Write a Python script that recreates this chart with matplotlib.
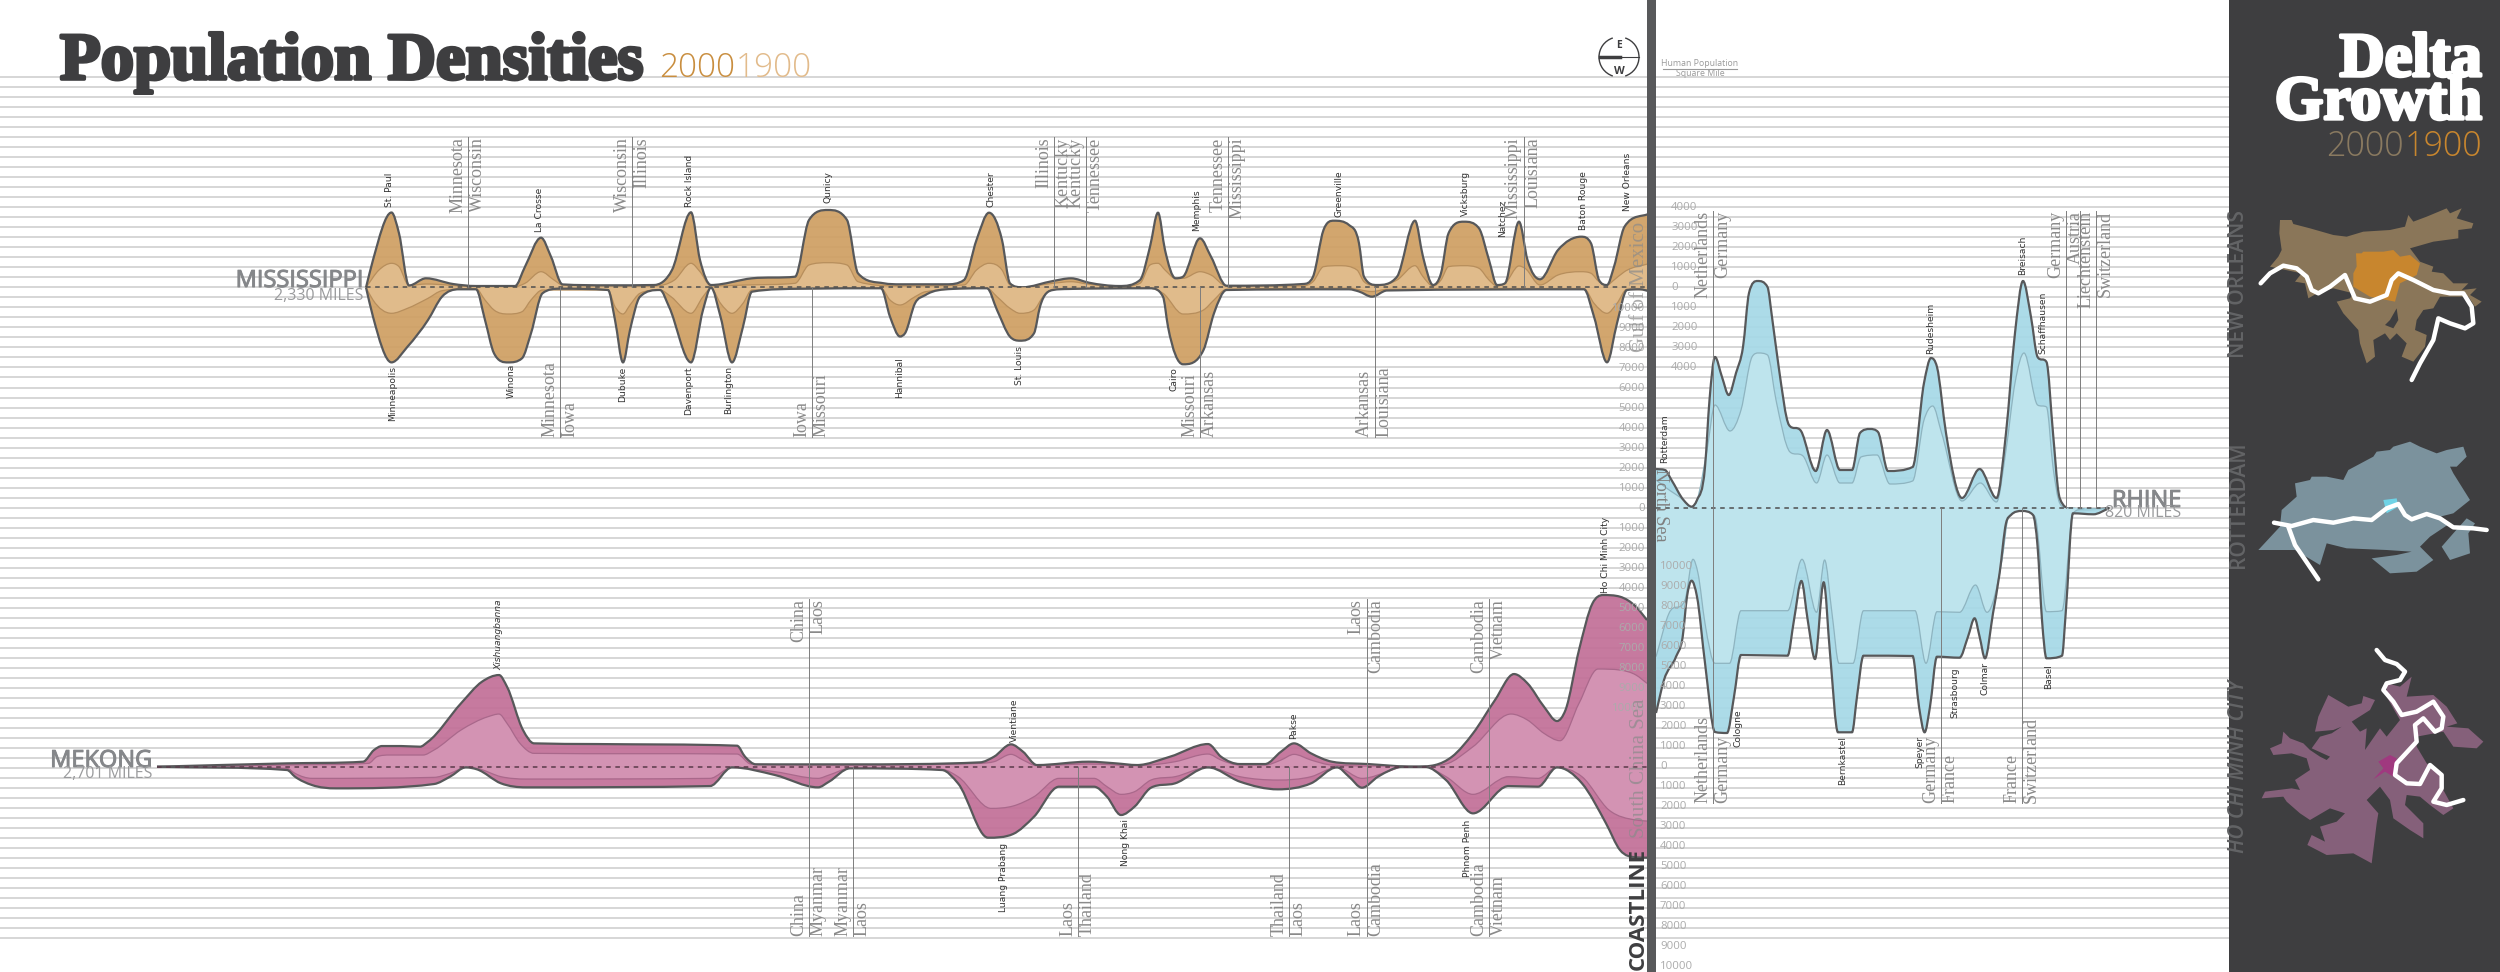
import numpy as np
import matplotlib
matplotlib.use("Agg")
import matplotlib.pyplot as plt
import matplotlib.patheffects as pe
from matplotlib.path import Path
from matplotlib.patches import PathPatch, Polygon, Rectangle, Arc

# densities are people per square mile, x is the station along the sheet
miss_up_2000_x = [366,373,391.5,399,409,426,453,476,515,525,541,551,562.5,608,654,672,691,700,711,752,795,809,828,847,858,884,900,946,964,976.5,989,1002,1010,1022,1053,1071,1089,1119,1140,1150,1158,1165,1175.5,1183,1200,1211,1226.5,1303,1313,1323.5,1334,1349,1359,1364,1377,1397,1415,1423,1433,1441,1448.5,1464,1479,1489,1497,1505,1519,1527.5,1540,1558,1581,1591,1599,1607,1614,1624.5,1650]
miss_up_2000 = [0,1375,3750,2710,100,460,175,75,75,1040,2490,1540,155,110,125,875,3760,1375,125,460,540,3375,3875,3375,710,210,160,160,375,2375,3740,2375,210,10,325,460,240,75,375,2040,3740,1875,460,540,2460,1540,90,175,540,2875,3340,3125,2210,540,125,540,3340,1540,125,710,2710,3290,2960,1375,125,210,3290,1375,410,1875,2540,2210,375,125,1040,3040,3710]
miss_up_1900_x = [366,379,391.5,399,409,426,476,515,525,541,554,562.5,654,674.5,691,700,711,746,795,809,828,847,858,900,964,976.5,989,1002,1010,1022,1053,1071,1089,1119,1140,1150,1158,1165,1175.5,1183,1200,1211,1226.5,1303,1313,1323.5,1339,1357,1364,1377,1397,1415,1423,1433,1441,1448.5,1464,1479,1489,1497,1505,1519,1525,1540,1558,1581,1591,1599,1607,1614,1624.5,1650]
miss_up_1900 = [0,875,1210,1040,100,175,40,40,210,790,375,125,75,375,1210,790,75,125,210,1125,1240,1125,290,75,125,875,1210,875,125,10,210,290,160,40,210,1125,1210,875,460,460,790,625,75,75,290,1040,1090,875,290,90,375,1090,540,75,375,1040,1090,960,375,75,210,1075,960,125,625,790,710,290,125,375,790,1210]
miss_dn_2000_x = [366,373,391.5,407.5,428,442,459,476,485,494,508,522,531,542.5,560,608,615,623,630,640,660,669,691,703,711,720.5,732,743,752,804,881,890,900,905,915,925.5,951,987,997,1010,1020,1034,1040,1053,1068,1150,1163,1168,1183,1203.5,1214,1226.5,1349,1359,1372,1387,1584,1594,1607,1617,1627,1640,1650]
miss_dn_2000 = [0,1460,3745,2960,1625,460,90,90,1625,3290,3745,3540,2290,290,60,125,1625,3745,2125,460,125,960,3745,1125,0,1460,3745,1960,210,60,40,1460,2450,2290,790,375,75,40,1125,2460,2660,2290,960,125,75,40,460,1960,3840,3125,1290,125,90,200,460,150,90,1460,3740,1790,125,90,200]
miss_dn_1900_x = [366,373,391.5,407.5,428,442,476,485,494,508,522,531,542.5,608,615,623,630,640,660,671,691,703,711,720.5,732,743,752,881,890,900,915,925.5,987,997,1010,1020,1034,1043,1053,1150,1163,1183,1203.5,1214,1226.5,1349,1372,1387,1584,1594,1607,1617,1627,1650]
miss_dn_1900 = [0,625,1290,1040,540,160,60,625,1125,1325,1210,625,125,125,960,1325,875,290,125,460,1290,460,40,790,1290,790,125,40,625,875,460,210,40,460,1040,1290,1125,460,90,40,290,1325,1125,625,90,40,200,90,60,790,1290,790,90,125]

rhine_up_2000_x = [1656,1665,1671.5,1683.5,1691.6,1697,1705,1709.5,1715,1722,1728.7,1736,1743,1749,1757.7,1767.5,1772,1778.7,1789,1801,1815.7,1827,1840,1852,1860,1870,1878,1888,1912.6,1924,1931,1937,1946,1962,1979.6,1996.5,2006,2015,2023,2031,2037.6,2046.5,2053,2058.6,2062,2075.5,2109]
rhine_up_2000 = [1965,1915,1415,415,80,415,2065,5415,7565,6565,5665,6765,8065,10765,11365,11065,9565,7065,4165,3865,1865,3915,1915,1915,3765,3965,3815,1865,2065,6265,7515,7065,3765,515,1965,515,3765,8765,11365,9565,7565,7315,3765,765,265,-100,0]
rhine_up_1900_x = [1656,1665,1683.5,1691.6,1697,1707,1715,1730,1741,1752,1758.6,1767.5,1776,1790,1803,1816.6,1827,1840,1852,1861,1877,1890,1912.6,1924,1932.7,1941.6,1962,1980.4,1996.5,2006,2015,2024,2037.6,2046.5,2053,2058.6,2064,2075.5]
rhine_up_1900 = [1415,1065,415,65,415,2915,5165,3865,4915,7565,7765,7665,5415,2815,2615,1265,2665,1265,1265,2565,2665,1215,1365,4415,5115,3765,365,1265,315,2915,6265,7765,5165,5065,2065,415,65,0]
rhine_dn_2000_x = [1656,1664,1676,1682.7,1687,1691.6,1697,1705,1715,1727,1734,1741,1787.6,1794,1801.4,1807.7,1815,1823.7,1830,1838,1852,1857,1863.5,1912.6,1919,1924.6,1930,1937,1959.5,1968,1974.6,1979.6,1985,1993,1999.6,2006,2011,2022,2033,2037.6,2042,2046.5,2062,2065.7,2073,2093.4,2109]
rhine_dn_2000 = [10235,8585,7420,6420,4420,3620,4420,7735,11185,11235,9420,7335,7370,5585,3635,5585,7535,3700,7250,11200,11200,9420,7370,7385,9920,11200,9920,7420,7470,6420,5500,6420,7500,5250,3250,750,335,135,335,1920,5585,7500,7370,5250,250,300,0]
rhine_dn_1900_x = [1656,1669,1685,1693,1698,1705,1715,1729.5,1741,1787.6,1802,1816.6,1824.6,1832,1839,1853,1863.5,1915,1926,1937,1959.5,1975.5,1987,2002,2008.6,2022,2035,2046.5,2062,2073,2084.5]
rhine_dn_1900 = [7420,5250,4585,2550,3250,5750,7750,7750,5120,5120,2550,5200,2585,5250,7750,7750,5120,5120,7750,5170,5200,3835,5200,2585,420,135,420,5170,5120,250,0]

mekong_up_2000_x = [157,287,363,374,382,401,420,428,461,482,499,507,523,534,596,737,745,756,850,980,994,1011,1023,1037,1088.5,1116,1137,1170,1208,1221,1240,1265,1281,1294,1311,1332,1368,1414,1435,1452,1473,1495,1514,1527.5,1544,1557,1565.5,1579,1592.5,1603,1620,1636,1647]
mekong_up_2000 = [0,167,250,833,1033,1033,1000,1250,3167,4250,4583,4000,1833,1167,1133,1050,500,117,117,217,500,1117,750,83,250,167,83,500,1133,500,133,133,750,1167,667,250,133,0,83,500,1667,3333,4633,4167,3000,2283,2833,5833,8167,8583,8500,8000,7333]
mekong_up_1900_x = [157,287,368.5,377,390,423,434,461,488,499,507,520,534,737,751,850,980,994,1011,1023,1037,1088.5,1137,1175,1208,1221,1240,1265,1281,1294,1311,1332,1414,1446,1473,1511,1527.5,1544,1560,1579,1598,1620,1636,1647]
mekong_up_1900 = [0,83,167,500,583,583,833,1833,2500,2633,2167,1167,667,633,133,83,167,250,617,333,50,133,50,250,633,333,83,83,333,617,333,83,0,133,1000,2633,2333,1667,1300,3167,4883,4833,4583,4167]
mekong_dn_2000_x = [157,287,295,312,336,434,450,466,477,501,526,710,732,775,818,829,850,942,958,988,1013,1034,1059,1094,1107,1121,1134.5,1151,1175,1208,1240,1278,1311,1337,1349,1362,1378,1403,1424.5,1446,1473,1508.5,1538,1557,1582,1606,1620,1636,1647]
mekong_dn_2000 = [0,167,500,917,1083,867,500,33,133,833,1033,967,33,417,1033,750,83,167,833,3550,3367,2500,1000,1000,1500,2417,2000,1050,833,33,750,1133,833,33,500,1050,500,0,0,667,2333,967,1000,33,833,2833,4167,4533,4550]
mekong_dn_1900_x = [157,287,295,312,434,450,466,477,501,526,710,732,775,818,829,850,942,958,991,1013,1034,1059,1094,1107,1121,1134.5,1151,1175,1208,1240,1278,1311,1337,1362,1392,1403,1424.5,1446,1473,1508.5,1538,1557,1582,1609,1636,1647]
mekong_dn_1900 = [0,83,333,583,533,333,33,83,500,617,583,33,250,583,417,83,133,500,2083,1967,1500,583,583,1000,1383,1250,667,500,33,500,667,500,33,583,167,0,0,500,1383,500,583,33,500,2167,2667,2717]

tick_hi = [4000,3000,2000,1000,0,-1000,-2000,-3000,-4000]
tick_wide = [10000,9000,8000,7000,6000,5000,4000,3000,2000,1000,0,-1000,-2000,-3000,-4000,-5000,-6000,-7000,-8000,-9000,-10000]

# state/country dividers (station, left name, right name)
miss_top_borders = [(468,"Minnesota","Wisconsin"),(632,"Wisconsin","Illinois"),(1054,"Illinois","Kentucky"),(1086,"Kentucky","Tennessee"),(1228,"Tennessee","Mississippi"),(1523.5,"Mississippi","Louisiana")]
miss_low_borders = [(560,"Minnesota","Iowa"),(812,"Iowa","Missouri"),(1200,"Missouri","Arkansas"),(1374.5,"Arkansas","Louisiana")]
rhine_top_borders = [(1713,"Netherlands","Germany"),(2066,"Germany","Austria"),(2095.6,"Liechtenstein","Switzerland")]
rhine_low_borders = [(1713,"Netherlands","Germany"),(1941,"Germany","France"),(2022,"France","Switzerland")]
mekong_top_borders = [(809,"China","Laos"),(1366.5,"Laos","Cambodia"),(1488.5,"Cambodia","Vietnam")]
mekong_low_borders = [(809,"China","Myanmar"),(853,"Myanmar","Laos"),(1077.6,"Laos","Thailand"),(1289,"Thailand","Laos"),(1366.5,"Laos","Cambodia"),(1488.5,"Cambodia","Vietnam")]

# city name, station, end of label nearest the river
cities_above = [("St. Paul",390,207),("La Crosse",540,232),("Rock Island",689,207),("Qunicy",828,203),("Chester",991,207),("Memphis",1197,231),("Greenville",1339,217),("Vicksburg",1465,216),("Natchez",1503,237),("Baton Rouge",1583,230),("New Orleans",1627,211),
                ("Rotterdam",1665,463),("Rudesheim",1930.5,354),("Breisach",2023,275),("Schaffhausen",2042.5,354),
                ("Vientiane",1014,742),("Pakse",1294,739),("Ho Chi Minh City",1606,593)]
cities_below = [("Minneapolis",392.6,366),("Winona",511,364),("Dubuke",623,367),("Davenport",689,366),("Burlington",729,366),("Hannibal",900,357),("St. Louis",1020,346),("Cairo",1174,367),
                ("Cologne",1738,709),("Bernkastel",1843,736),("Speyer",1920,736),("Strasbourg",1955,667),("Colmar",1985,662),("Basel",2049,664),
                ("Luang Prabang",1003,843),("Nong Khai",1125,819),("Phnom Penh",1467,820)]

# sidebar maps traced from the sheet, in crop units
nola_2000 = [(180,660),(215,660),(220,672),(270,685),(340,705),(380,710),(430,695),(510,690),(555,680),(565,645),(580,665),(620,650),(680,625),(690,640),(725,625),(710,655),(760,670),(755,685),(715,690),(715,715),(640,725),(570,745),(600,785),(640,800),(635,815),(670,820),(700,850),(745,850),(725,870),(770,865),(750,885),(785,905),(765,920),(745,890),(660,890),(640,925),(610,930),(590,960),(585,990),(620,1005),(615,1040),(580,1085),(545,1070),(560,1030),(530,1000),(510,1020),(495,1000),(460,1020),(465,1070),(440,1090),(420,1030),(415,990),(370,940),(350,905),(390,895),(400,880),(340,865),(300,875),(265,895),(255,850),(225,845),(245,820),(150,800),(175,770),(185,750),(178,700)]
nola_1900 = [(408,760),(425,760),(430,755),(490,755),(520,750),(540,770),(570,765),(600,790),(590,825),(540,850),(525,905),(450,890),(400,860),(400,820),(410,800)]
nola_lake = [(510,960),(530,925),(535,960),(520,985),(495,975)]
nola_river = [(122,850),(150,820),(190,797),(230,805),(260,830),(275,870),(295,880),(330,860),(375,825),(390,860),(405,895),(450,905),(500,885),(515,840),(535,820),(580,840),(640,870),(690,880),(730,880),(755,920),(760,970),(735,985),(690,970),(655,955),(640,1020),(600,1090),(575,1140)]
rott_2000 = [(225,1450),(270,1440),(275,1430),(320,1430),(370,1440),(385,1410),(460,1370),(470,1355),(510,1350),(520,1340),(570,1325),(600,1340),(650,1360),(680,1350),(730,1340),(740,1370),(710,1400),(690,1400),(700,1420),(750,1500),(700,1540),(660,1550),(690,1570),(630,1610),(600,1640),(640,1680),(590,1715),(510,1720),(455,1675),(530,1665),(575,1655),(500,1650),(380,1645),(320,1630),(300,1695),(225,1650),(115,1650),(180,1580),(185,1530),(230,1490)]
rott_east = [(740,1555),(765,1570),(745,1600),(750,1660),(690,1680),(665,1640),(700,1600)]
rott_1900 = [(490,1500),(530,1495),(535,1520),(500,1540)]
rott_river = [(162,1568),(215,1578),(280,1560),(340,1568),(400,1555),(455,1560),(500,1525),(535,1512),(555,1545),(575,1558),(620,1542),(660,1555),(700,1582),(760,1585),(800,1590)]
rott_branch = [(205,1580),(225,1635),(295,1738)]
hcmc_2000 = [(325,2085),(385,2120),(425,2110),(430,2088),(465,2100),(450,2130),(395,2165),(420,2195),(440,2185),(435,2250),(480,2185),(500,2210),(540,2160),(500,2090),(500,2050),(540,2060),(575,2030),(560,2090),(640,2085),(680,2120),(712,2170),(680,2180),(745,2185),(790,2225),(770,2245),(700,2240),(670,2195),(590,2210),(590,2240),(620,2290),(670,2330),(670,2370),(700,2425),(670,2445),(630,2415),(600,2390),(560,2385),(555,2415),(590,2450),(610,2470),(610,2515),(570,2490),(520,2455),(510,2400),(480,2360),(440,2400),(475,2440),(470,2470),(455,2590),(400,2560),(320,2565),(262,2535),(275,2505),(315,2525),(300,2480),(350,2465),(375,2440),(330,2425),(270,2460),(240,2440),(200,2405),(190,2390),(125,2395),(135,2375),(215,2365),(240,2370),(225,2340),(270,2310),(260,2275),(215,2260),(160,2265),(150,2245),(185,2230),(190,2195),(210,2215),(250,2230),(270,2250),(300,2270),(320,2280),(330,2270),(275,2245),(300,2210),(335,2200),(365,2180),(340,2190),(285,2195),(295,2150)]
hcmc_1900 = [(475,2285),(510,2265),(530,2275),(520,2330),(495,2315),(460,2338),(490,2305)]
hcmc_river = [(470,1950),(495,1980),(530,1992),(555,2015),(540,2040),(500,2050),(490,2070),(520,2105),(545,2145),(590,2135),(640,2105),(670,2150),(665,2185),(645,2195),(610,2155),(585,2175),(590,2225),(530,2290),(525,2325),(560,2350),(600,2352),(630,2295),(665,2325),(665,2365),(640,2405),(680,2415),(730,2400)]

DARK = "#3e3e40"
BAR = "#58595b"
OUTLINE = "#57585a"
SANS = "Open Sans"
SERIF = "Liberation Serif"
NARROW = ["Liberation Sans Narrow", "Open Sans"]


def monotone_path(xs, ys, closed_to_zero=False):
    xs = np.asarray(xs, float)
    ys = np.asarray(ys, float)
    dx = np.diff(xs)
    sl = np.diff(ys) / dx
    m = np.zeros(len(xs))
    for i in range(1, len(xs) - 1):
        if sl[i - 1] * sl[i] > 0:
            avg = (sl[i - 1] * dx[i] + sl[i] * dx[i - 1]) / (dx[i - 1] + dx[i])
            lim = 3 * min(abs(sl[i - 1]), abs(sl[i]))
            m[i] = np.sign(avg) * min(abs(avg), lim)
    m[0] = sl[0]
    m[-1] = sl[-1]
    verts = [(xs[0], ys[0])]
    codes = [Path.MOVETO]
    for i in range(len(dx)):
        verts += [(xs[i] + dx[i] / 3, ys[i] + m[i] * dx[i] / 3),
                  (xs[i + 1] - dx[i] / 3, ys[i + 1] - m[i + 1] * dx[i] / 3),
                  (xs[i + 1], ys[i + 1])]
        codes += [Path.CURVE4] * 3
    if closed_to_zero:
        verts += [(xs[-1], 0), (xs[0], 0), (xs[0], 0)]
        codes += [Path.LINETO, Path.LINETO, Path.CLOSEPOLY]
    return Path(verts, codes)


def draw_side(ax, x2000, v2000, x1900, v1900, sign, dark, light, mid):
    v2000 = sign * np.asarray(v2000, float)
    v1900 = sign * np.asarray(v1900, float)
    ax.add_patch(PathPatch(monotone_path(x2000, v2000, True), fc=dark, ec="none", alpha=0.93))
    ax.add_patch(PathPatch(monotone_path(x1900, v1900, True), fc=light, ec="none", alpha=0.93))
    ax.add_patch(PathPatch(monotone_path(x1900, v1900), fc="none", ec=mid, lw=0.9))
    ax.add_patch(PathPatch(monotone_path(x2000, v2000), fc="none", ec=OUTLINE, lw=1.6))


def river_axes(zero_y, z):
    a = fig.add_axes([0, 0, 1, 1], zorder=z)
    a.set_xlim(0, 2500)
    a.set_ylim((zero_y - 972) * 50, zero_y * 50)  # 1000 per sq mile = 20 px
    a.axis("off")
    a.patch.set_alpha(0)
    return a


def border_labels(ax, items, y, top, y_zero):
    for x, left, right in items:
        ax.plot([x, x], [y, y_zero], color="#7d7d7d", lw=0.7, zorder=6)
        va = "top" if top else "bottom"
        ax.text(x - 1.5, y, left, rotation=90, ha="right", va=va, family=SERIF, fontsize=13, color="#8a8a8a", zorder=7)
        ax.text(x + 1, y, right, rotation=90, ha="left", va=va, family=SERIF, fontsize=13, color="#8a8a8a", zorder=7)


fig = plt.figure(figsize=(25, 9.72), dpi=100, facecolor="white")

ax_bg = fig.add_axes([0, 0, 1, 1], zorder=0)
ax_bg.set_xlim(0, 2500)
ax_bg.set_ylim(972, 0)
ax_bg.axis("off")
ax_bg.hlines(np.arange(77.5, 938, 10), 0, 2229, color="#cdcdcd", lw=1.15)

ax_miss = river_axes(287.5, 1)
ax_rhine = river_axes(508.3, 2)
ax_mek = river_axes(766.7, 3)

draw_side(ax_miss, miss_up_2000_x, miss_up_2000, miss_up_1900_x, miss_up_1900, 1, "#cf9f63", "#e2bd8e", "#b78e5c")
draw_side(ax_miss, miss_dn_2000_x, miss_dn_2000, miss_dn_1900_x, miss_dn_1900, -1, "#cf9f63", "#e2bd8e", "#b78e5c")
ax_miss.plot([366, 1647], [0, 0], color="#4f4f4f", lw=1.1, dashes=(3, 3))

draw_side(ax_rhine, rhine_up_2000_x, rhine_up_2000, rhine_up_1900_x, rhine_up_1900, 1, "#a6d9e7", "#c0e5ee", "#8eb4c0")
draw_side(ax_rhine, rhine_dn_2000_x, rhine_dn_2000, rhine_dn_1900_x, rhine_dn_1900, -1, "#a6d9e7", "#c0e5ee", "#8eb4c0")
ax_rhine.plot([1656, 2110], [0, 0], color="#4f4f4f", lw=1.1, dashes=(3, 3))

draw_side(ax_mek, mekong_up_2000_x, mekong_up_2000, mekong_up_1900_x, mekong_up_1900, 1, "#c27098", "#d596b5", "#a9688b")
draw_side(ax_mek, mekong_dn_2000_x, mekong_dn_2000, mekong_dn_1900_x, mekong_dn_1900, -1, "#c27098", "#d596b5", "#a9688b")
ax_mek.plot([157, 1647], [0, 0], color="#5a3a4a", lw=1.1, dashes=(3, 3))

ax = fig.add_axes([0, 0, 1, 1], zorder=5)
ax.set_xlim(0, 2500)
ax.set_ylim(972, 0)
ax.axis("off")
ax.patch.set_alpha(0)

border_labels(ax, miss_top_borders, 137.5, True, 287.5)
border_labels(ax, miss_low_borders, 436.5, False, 287.5)
border_labels(ax, rhine_top_borders, 211, True, 508.3)
ax.plot([2080, 2080], [211, 508.3], color="#7d7d7d", lw=0.7)
border_labels(ax, rhine_low_borders, 803, False, 508.3)
border_labels(ax, mekong_top_borders, 599, True, 766.7)
border_labels(ax, mekong_low_borders, 936, False, 766.7)

for name, x, y in cities_above:
    ax.text(x, y, name, rotation=90, ha="center", va="bottom", fontsize=6.6, color="#333333", family="DejaVu Sans")
for name, x, y in cities_below:
    ax.text(x, y, name, rotation=90, ha="center", va="top", fontsize=6.6, color="#333333", family="DejaVu Sans")
ax.text(499, 670, "Xishuangbanna", rotation=90, ha="center", va="bottom", fontsize=6.6, color="#333333", style="italic", family="DejaVu Sans")

# density scales either side of the coastline
for v in tick_hi:
    ax.text(1671, v, f"{abs(v)}", transform=ax_miss.transData, fontsize=8.2, color="#ababab", family=SANS, va="center", ha="left")
for v in tick_wide:
    ax.text(1645, v, f"{abs(v)}", transform=ax_rhine.transData, fontsize=8.2, color="#ababab", family=SANS, va="center", ha="right")
    ax.text(1660, v, f"{abs(v)}", transform=ax_mek.transData, fontsize=8.2, color="#ababab", family=SANS, va="center", ha="left")

ax.text(1640, 287, "Gulf of Mexico", rotation=90, ha="center", va="center", family=SERIF, fontsize=15, color="#8a8a8a", alpha=0.7)
ax.text(1640, 768, "South China Sea", rotation=90, ha="center", va="center", family=SERIF, fontsize=15, color="#8a8a8a", alpha=0.7)
ax.text(1660, 505, "North Sea", rotation=270, ha="center", va="center", family=SERIF, fontsize=13, color="#7f7f7f")
ax.text(1638, 970, "COASTLINE", rotation=90, ha="center", va="bottom", family=SANS, fontsize=16, weight="bold", color=DARK)

# coast bar and sidebar
ax.add_patch(Rectangle((1647, 0), 9, 972, fc=BAR, ec="none", zorder=8))
ax.add_patch(Rectangle((2229, 0), 271, 972, fc=DARK, ec="none", zorder=8))

# heading
heavy = [pe.withStroke(linewidth=2.6, foreground=DARK)]
ax.text(60, 79, "Population Densities", family=SERIF, weight="bold", fontsize=48, color=DARK, va="baseline", path_effects=heavy)
ax.text(659, 77, "2000", family=SANS, fontsize=24, color="#c98e3f", va="baseline", weight="light")
ax.text(736, 77, "1900", family=SANS, fontsize=24, color="#e2bb8b", va="baseline", weight="light")

# compass and unit note
ax.add_patch(Arc((1619, 57), 40, 40, theta1=-72, theta2=72, ec=DARK, lw=1))
ax.add_patch(Arc((1619, 57), 40, 40, theta1=108, theta2=252, ec=DARK, lw=1))
ax.plot([1600, 1639], [57.5, 57.5], color=DARK, lw=0.8)
ax.plot([1600, 1620], [57.5, 57.5], color=DARK, lw=2.5)
ax.text(1619, 45, "E", ha="center", va="center", fontsize=7.5, weight="bold", color=DARK, family=SANS)
ax.text(1619, 72, "W", ha="center", va="center", fontsize=8, weight="bold", color=DARK, family=SANS)
ax.text(1700, 64, "Human Population", ha="center", va="center", fontsize=6.3, color="#9a9a9a", family=NARROW)
ax.plot([1663, 1737], [69, 69], color="#9a9a9a", lw=0.8)
ax.text(1700, 74, "Square Mile", ha="center", va="center", fontsize=6.3, color="#9a9a9a", family=NARROW)

# river names
name_fx = [pe.withStroke(linewidth=0.7, foreground="#85878a")]
for label, sub, x, y1, y2 in [("MISSISSIPPI", "2,330 MILES", 363, 287, 300), ("MEKONG", "2,701 MILES", 152, 767, 778), ("RHINE", "820 MILES", 2181, 507, 517)]:
    ax.text(x, y1, label, ha="right", va="baseline", fontsize=17, color="#85878a", family=NARROW, path_effects=name_fx)
    ax.text(x, y2, sub, ha="right", va="baseline", fontsize=11.5, color="#9a9b9d", family=NARROW)

# sidebar text
white_heavy = [pe.withStroke(linewidth=2.4, foreground="white")]
ax.text(2482, 76, "Delta", ha="right", family=SERIF, weight="bold", fontsize=45, color="white", zorder=9, path_effects=white_heavy)
ax.text(2482, 119, "Growth", ha="right", family=SERIF, weight="bold", fontsize=45, color="white", zorder=9, path_effects=white_heavy)
ax.text(2404, 156, "2000", ha="right", family=SANS, fontsize=24.5, color="#8a7a60", zorder=9, weight="light")
ax.text(2482, 156, "1900", ha="right", family=SANS, fontsize=24.5, color="#c8862e", zorder=9, weight="light")
ax.text(2238, 358, "NEW ORLEANS", rotation=90, ha="center", va="bottom", fontsize=15, color="#636466", family=SANS, weight="semibold", zorder=9)
ax.text(2238, 568, "ROTTERDAM", rotation=90, ha="center", va="bottom", fontsize=15, color="#636466", family=SANS, weight="semibold", zorder=9)
ax.text(2238, 853, "HO CHI MINH CITY", rotation=90, ha="center", va="bottom", fontsize=15, color="#636466", family=SANS, weight="semibold", style="italic", zorder=9)


def sheet(points):
    p = np.asarray(points, float)
    return np.column_stack([2220 + p[:, 0] / 3, p[:, 1] / 3])


for shape, col in [(nola_2000, "#8a7659"), (nola_1900, "#c8862e"), (nola_lake, DARK), (rott_2000, "#7b929d"), (rott_east, "#7b929d"), (rott_1900, "#6fd3e6"), (hcmc_2000, "#85607a"), (hcmc_1900, "#a0397f")]:
    ax.add_patch(Polygon(sheet(shape), closed=True, fc=col, ec="none", zorder=9))
for line in [nola_river, rott_river, rott_branch, hcmc_river]:
    xy = sheet(line)
    ax.plot(xy[:, 0], xy[:, 1], color="white", lw=3.2, solid_capstyle="round", solid_joinstyle="round", zorder=10)

fig.savefig("out.png", dpi=100)
